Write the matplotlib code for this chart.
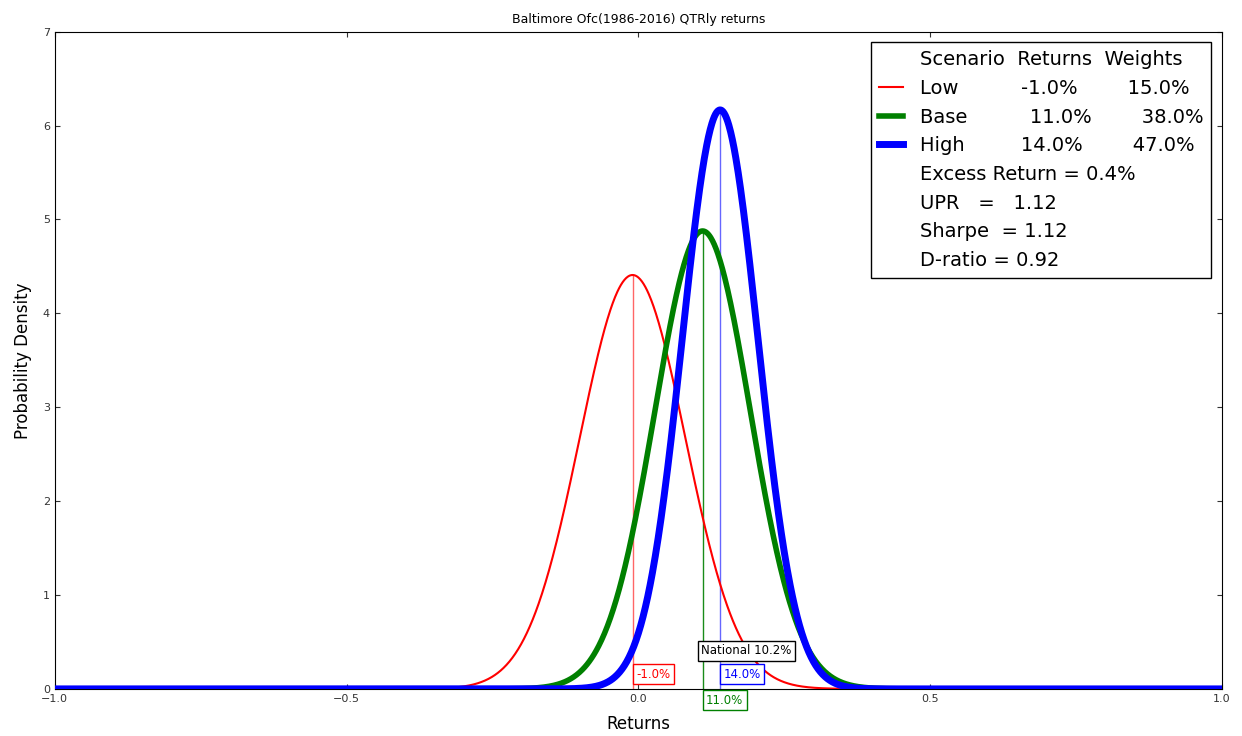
import numpy as np
import matplotlib
matplotlib.use('Agg')
import matplotlib.pyplot as plt
from matplotlib.lines import Line2D

# scenario data
scenarios = ['Low', 'Base', 'High']
returns = [-0.01, 0.11, 0.14]
stdevs = [0.0905, 0.0818, 0.0647]
weights = [0.15, 0.38, 0.47]
colors = ['red', 'green', 'blue']
widths = [1.5, 4, 5]
national = 0.102
excess = 0.4
upr = 1.12
sharpe = 1.12
dratio = 0.92

plt.rcParams['font.family'] = 'DejaVu Sans'
fig, ax = plt.subplots(figsize=(12.42, 7.36), dpi=100)
fig.subplots_adjust(left=0.044, right=0.984, top=0.957, bottom=0.064)

x = np.linspace(-1, 1, 2001)
for name, mu, sd, c, lw in zip(scenarios, returns, stdevs, colors, widths):
	y = np.exp(-0.5*((x-mu)/sd)**2)/(sd*np.sqrt(2*np.pi))
	ax.plot(x, y, color=c, lw=lw, zorder=3)
	peak = 1/(sd*np.sqrt(2*np.pi))
	ax.vlines(mu, 0, peak, color=c, lw=1, alpha=0.6 if c != 'green' else 0.9, zorder=2)

box = dict(boxstyle='square,pad=0.3', fc='white')
ax.text(returns[0]+0.006, 0.12, '%.1f%%' % (returns[0]*100), color='red', fontsize=8.5,
	bbox=dict(box, ec='red'), zorder=5)
ax.text(returns[1]+0.006, -0.12, '%.1f%%' % (returns[1]*100), color='green', fontsize=8.5,
	va='center', bbox=dict(box, ec='green'), zorder=5, clip_on=False)
ax.text(returns[2]+0.006, 0.12, '%.1f%%' % (returns[2]*100), color='blue', fontsize=8.5,
	bbox=dict(box, ec='blue'), zorder=5)
ax.text(national+0.006, 0.37, 'National %.1f%%' % (national*100), color='black', fontsize=8.5,
	bbox=dict(box, ec='black'), zorder=5)

blank = Line2D([], [], color='none')
handles = [blank]
labels = ['Scenario  Returns  Weights']
for name, mu, w, c, lw in zip(scenarios, returns, weights, colors, widths):
	handles.append(Line2D([], [], color=c, lw=lw))
labels.append('Low          -1.0%        15.0%')
labels.append('Base          11.0%        38.0%')
labels.append('High         14.0%        47.0%')
extra = ['Excess Return = %.1f%%' % excess, 'UPR   =   %.2f' % upr,
	'Sharpe  = %.2f' % sharpe, 'D-ratio = %.2f' % dratio]
for e in extra:
	handles.append(blank)
	labels.append(e)
leg = ax.legend(handles, labels, loc='upper right', fontsize=14, handlelength=1.2,
	handletextpad=0.9, borderpad=0.4, labelspacing=0.5, fancybox=False,
	framealpha=1, borderaxespad=0.55)
leg.get_frame().set_edgecolor('black')

ax.set_xlim(-1, 1)
ax.set_ylim(0, 7)
ax.set_xticks([-1.0, -0.5, 0.0, 0.5, 1.0])
ax.tick_params(direction='in', top=True, right=True, labelsize=8, colors='#333333')
ax.set_xlabel('Returns', fontsize=12, labelpad=8)
ax.set_ylabel('Probability Density', fontsize=12, labelpad=8)
ax.set_title('Baltimore Ofc(1986-2016) QTRly returns', fontsize=9)

plt.savefig('out.png', dpi=100)
